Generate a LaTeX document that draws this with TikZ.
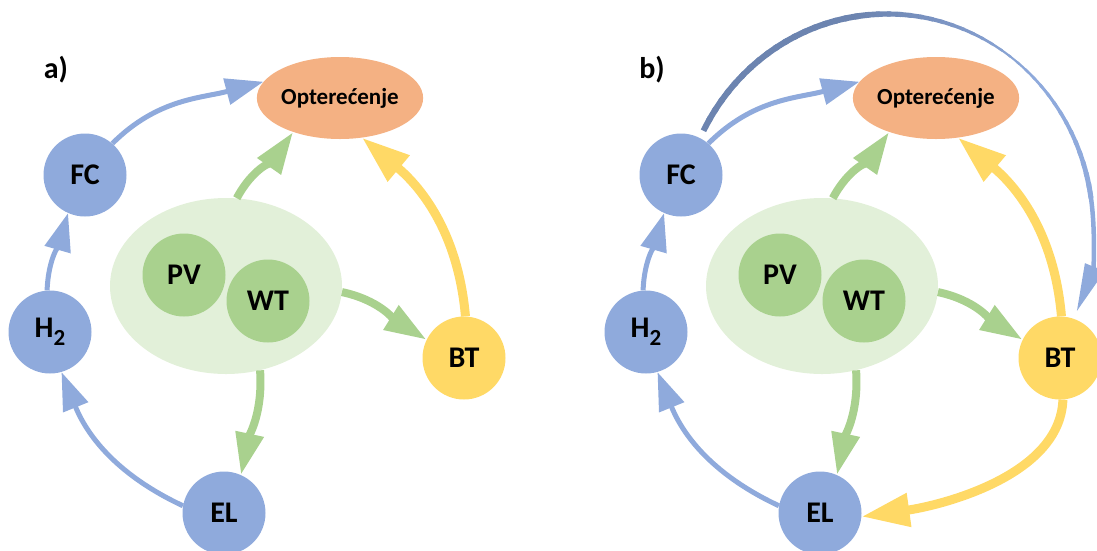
\documentclass[tikz,border=0pt]{standalone}
\usepackage{fontspec}
\setmainfont{Carlito}
\usetikzlibrary{arrows.meta,shapes.geometric}
\definecolor{cblue}{HTML}{8FAADC}
\definecolor{cgreen}{HTML}{A9D18E}
\definecolor{clgreen}{HTML}{E2F0D9}
\definecolor{corange}{HTML}{F4B183}
\definecolor{cyellow}{HTML}{FFD966}
\definecolor{cdark}{RGB}{108,132,176}
\begin{document}
\begin{tikzpicture}[x=1pt,y=1pt,
  circ/.style={circle, minimum size=83pt, inner sep=0pt, font=\fontsize{30}{30}\selectfont\bfseries},
  bluen/.style={circ, fill=cblue},
  greenn/.style={circ, fill=cgreen},
  yellown/.style={circ, fill=cyellow},
  loadn/.style={ellipse, fill=corange, minimum width=164pt, minimum height=82pt, inner sep=0pt, font=\fontsize{23}{23}\selectfont\bfseries},
  srcn/.style={ellipse, fill=clgreen, minimum width=232pt, minimum height=176pt, inner sep=0pt},
  panel/.style={font=\fontsize{30}{30}\selectfont\bfseries},
  barrow/.style={draw=cblue, line width=5pt, -{Triangle[length=38pt,width=26pt]}},
  garrow/.style={draw=cgreen, line width=8pt, -{Triangle[length=42pt,width=27pt]}},
  yarrow/.style={draw=cyellow, line width=9pt, -{Triangle[length=48pt,width=32pt]}},
]
\useasboundingbox (0,0) rectangle (1097,-550);
\foreach \p/\dx in {a/0,b/596}{
  \begin{scope}[xshift=\dx pt]
    \node[panel] (lab\p) at (56,-70) {\p)};
    \node[loadn] (Opt\p) at (340,-98) {Optere\'cenje};
    \node[bluen] (FC\p) at (85,-175) {FC};
    \node[bluen] (H2\p) at (50,-332) {H\raisebox{-0.28em}{\fontsize{23}{23}\selectfont 2}};
    \node[bluen] (EL\p) at (224,-513) {EL};
    \node[yellown] (BT\p) at (464,-358) {BT};
    \node[srcn] (GE\p) at (226,-286) {};
    \node[greenn] (PV\p) at (184,-275) {PV};
    \node[greenn] (WT\p) at (268,-301) {WT};
    \draw[barrow] (FC\p.49) to[out=45,in=195] (Opt\p.168);
    \draw[barrow] (H2\p.94) to[out=88,in=254] (FC\p.246);
    \draw[barrow] (EL\p.170) to[out=155,in=292] (H2\p.286);
    \draw[garrow] (GE\p.83) to[out=62,in=235] (Opt\p.216);
    \draw[garrow] (GE\p.292) to[out=-86,in=78] (EL\p.66);
    \draw[garrow] (GE\p.-3) to[out=-12,in=148] (BT\p.154);
    \draw[yarrow] (BT\p.88) to[out=95,in=-40] (Opt\p.-61);
  \end{scope}
}
% panel b extras
\draw[yarrow] (BTb.-86) to[out=-92,in=8,looseness=0.85] (ELb.-5);
\coordinate (ARCc) at (887,-228);
\foreach \a [evaluate=\a as \m using {max(0,min(100,(\a-45)/55*100))},
             evaluate=\a as \w using {\a>=100 ? 6 : (\a>=55 ? 2+4*(\a-55)/45 : min(5,2+3*(55-\a)/40))}]
  in {153,150,...,12}{
  \draw[draw=cdark!\m!cblue, line width=\w pt]
    ([shift={(\a:206 and 214)}]ARCc) arc[start angle=\a, end angle=\a-4, x radius=206, y radius=214];
}
\draw[draw=cblue, line width=4.5pt, -{Triangle[length=48pt,width=20pt]}]
  ([shift={(10:206 and 214)}]ARCc) arc[start angle=10, end angle=-23, x radius=206, y radius=214];
\end{tikzpicture}
\end{document}
